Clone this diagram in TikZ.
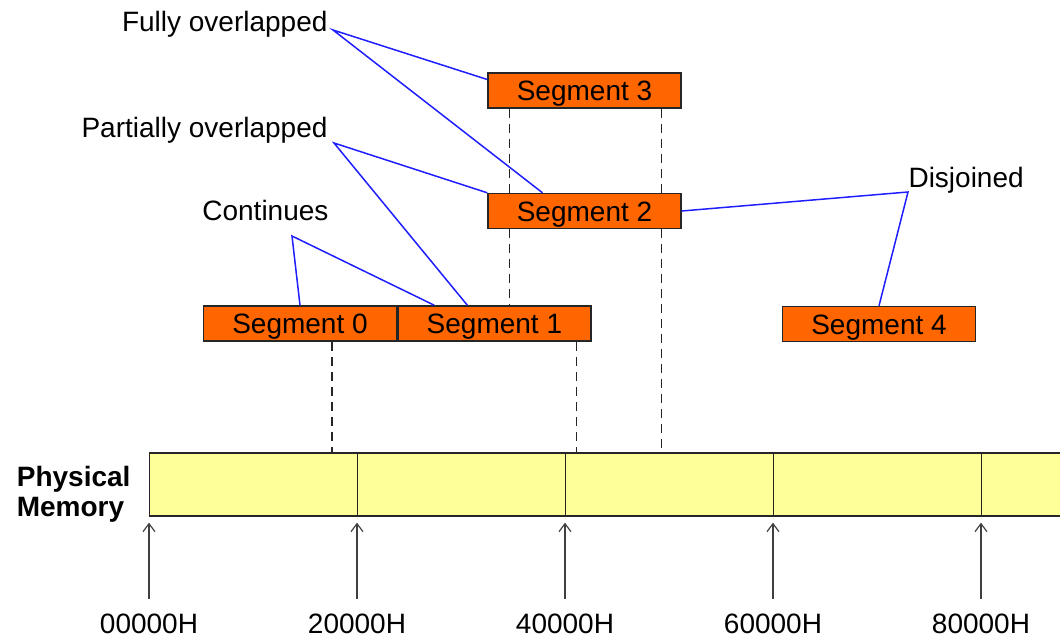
\documentclass[tikz,border=0pt]{standalone}
\usepackage{fontspec}
\setmainfont{Liberation Sans}
\usepackage{tikz}
\usetikzlibrary{positioning,arrows.meta,backgrounds}
\definecolor{segorange}{HTML}{FF6600}
\definecolor{memyellow}{HTML}{FFFF99}
\definecolor{linkblue}{HTML}{1E1EFF}
\newcommand\lblsize{\fontsize{28}{30}\selectfont}

\begin{document}
\begin{tikzpicture}[x=1pt,y=-1pt,>={Straight Barb[length=8pt,width=12pt]},
  font=\lblsize,
  seg/.style={draw=black!85,line width=1.4pt,fill=segorange,minimum width=193pt,
    minimum height=35pt,inner sep=0pt,text height=20pt,text depth=0pt},
  cell/.style={draw=black!85,line width=1.4pt,fill=memyellow,minimum width=208pt,
    minimum height=63pt,inner sep=0pt,anchor=west},
  guide/.style={draw=black!85,line width=1.5pt,dash pattern=on 9pt off 6pt},
  link/.style={draw=linkblue,line width=1.5pt},
  addrline/.style={draw=black!75,line width=1.2pt}]
\useasboundingbox (0,0) rectangle (1060,637);
\clip (0,0) rectangle (1060,637);
% physical memory
  \foreach \i/\x in {0/149,1/357,2/565,3/773,4/981}
    \node[cell] (m\i) at (\x,484.5) {};
  \node[anchor=east,align=left,font=\lblsize\bfseries] (pm)
    at ([xshift=-15pt,yshift=-9.5pt]m0.west) {Physical\\Memory};
  \foreach \i/\t in {0/00000H,1/20000H,2/40000H,3/60000H,4/80000H} {
    \node[anchor=base] (a\i) at (m\i.south west |- 0,633) {\t};
    \draw[addrline,->] ([yshift=11pt]a\i.north) -- ([yshift=-6pt]m\i.south west);
  }
% segments
  \node[seg] (s0) at (300,323.5) {Segment 0};
  \node[seg,right=0pt of s0] (s1) {Segment 1};
  \node[seg] (s2) at (584.5,211) {Segment 2};
  \node[seg] (s3) at (584.5,90.5) {Segment 3};
  \node[seg] (s4) at (879,324) {Segment 4};
  \begin{scope}[on background layer]
    \draw[guide] ([xshift=22pt]s3.south west) coordinate (g3) -- (g3 |- s1.north);
    \draw[guide] ([xshift=-20pt]s3.south east) coordinate (h3) -- (h3 |- m0.north);
    \draw[guide] ([xshift=32pt]s0.south) coordinate (g0) -- (g0 |- m0.north);
    \draw[guide] ([xshift=-15pt]s1.south east) coordinate (g1) -- (g1 |- m0.north);
  \end{scope}
% labels
  \node[anchor=east] (full) at (331,24) {Fully overlapped};
  \node[anchor=east] (part) at (331,130) {Partially overlapped};
  \node[anchor=east] (cont) at (332,210) {Continues};
  \node[anchor=west] (disj) at (905,180) {Disjoined};
  \coordinate (fj) at (333,30);
  \coordinate (pj) at (334,143);
  \coordinate (cj) at (292,236);
  \coordinate (dj) at (908,192);
  \draw[link] ([yshift=11pt]s3.west) -- (fj) -- ([xshift=-42pt]s2.north);
  \draw[link] (s2.north west) -- (pj) -- ([xshift=-27pt]s1.north);
  \draw[link] (s0.north) -- (cj) -- ([xshift=-60pt]s1.north);
  \draw[link] (s2.east) -- (dj) -- (s4.north);
\end{tikzpicture}
\end{document}
